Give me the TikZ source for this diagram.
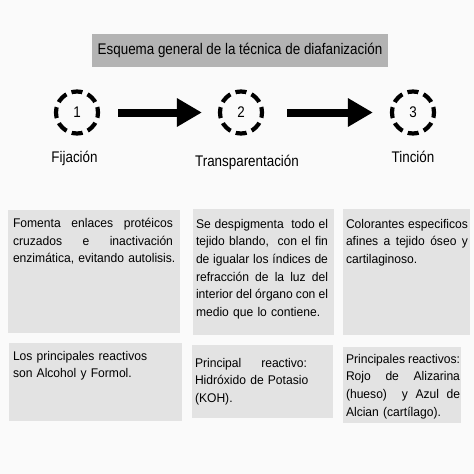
\documentclass[tikz,border=0pt]{standalone}
\usepackage{fontspec}
\setmainfont{Liberation Sans}
\newfontfamily\bodyfont[FakeStretch=0.96]{Liberation Sans}
\newfontfamily\narrowfont[FakeStretch=0.87]{Liberation Sans}
\usetikzlibrary{arrows.meta}
\definecolor{bg}{HTML}{FAFAFA}
\definecolor{titlegray}{HTML}{B3B3B3}
\definecolor{boxgray}{HTML}{E3E3E3}
\newcommand{\jline}[2]{\leavevmode\hbox to #1{#2}}
\newcommand{\gap}{\hspace{0pt plus 1fill}}
\tikzset{
  panel/.style={fill=boxgray, draw=none, inner sep=0pt, outer sep=0pt, anchor=north west},
  txt/.style={anchor=base west, inner sep=0pt, outer sep=0pt, align=left, text width=200pt,
    font=\bodyfont\fontsize{12.6}{17.7}\selectfont},
  stepcircle/.style={circle, draw=black, line width=4.2pt, dash pattern=on 11pt off 5.5pt, dash phase=5.5pt,
    minimum size=42pt, inner sep=0pt, font=\narrowfont\fontsize{15.4}{17}\selectfont},
  lab/.style={inner sep=0pt, anchor=base, font=\narrowfont\fontsize{15.4}{17}\selectfont},
  bigarrow/.style={line width=8pt, -{Triangle[length=25pt,width=27pt]}},
}
\begin{document}
\begin{tikzpicture}[x=1pt,y=-1pt]
\path[use as bounding box, fill=bg] (0,0) rectangle (474,474);

% title
\node[fill=titlegray, minimum width=296pt, minimum height=33pt, inner sep=0pt,
  text height=11pt, text depth=3pt,
  font=\narrowfont\fontsize{15.4}{17}\selectfont] (title) at (240,50.5) {Esquema general de la técnica de diafanización};

% steps
\node[stepcircle] (s1) at (77,112.5) {1};
\node[stepcircle] (s2) at (241,112.5) {2};
\node[stepcircle] (s3) at (413,112.5) {3};
\draw[bigarrow, shorten <=18pt, shorten >=16pt] (s1) -- (s2);
\draw[bigarrow, shorten <=23pt, shorten >=17pt] (s2) -- (s3);

\node[lab] (l1) at (74.5,162.7) {Fijación};
\node[lab] (l2) at (247,166.7) {Transparentación};
\node[lab] (l3) at (413,162.7) {Tinción};

% row 1 panels
\node[panel, minimum width=172pt, minimum height=123pt] (b1) at (8,210) {};
\node[panel, minimum width=141pt, minimum height=126pt] (b2) at (193,209) {};
\node[panel, minimum width=127pt, minimum height=126pt] (b3) at (343,209) {};

% row 2 panels
\node[panel, minimum width=173pt, minimum height=78pt] (c1) at (9,343) {};
\node[panel, minimum width=141pt, minimum height=73pt] (c2) at (192,345) {};
\node[panel, minimum width=118pt, minimum height=76pt] (c3) at (343,347) {};

% row 1 texts
\node[txt] (t1) at (13,227.5) {\jline{160pt}{Fomenta\gap enlaces\gap protéicos}\\
  \jline{160pt}{cruzados\gap e\gap inactivación}\\
  enzimática, evitando autolisis.};
\node[txt] (t2) at (196,228) {\jline{132pt}{Se\gap despigmenta\gap\gap todo\gap el}\\
  \jline{132pt}{tejido\gap blando,\gap\gap con\gap el\gap fin}\\
  \jline{132pt}{de\gap igualar\gap los\gap índices\gap de}\\
  \jline{132pt}{refracción\gap de\gap la\gap luz\gap del}\\
  \jline{132pt}{interior\gap del\gap órgano\gap con\gap el}\\
  medio que lo contiene.};
\node[txt] (t3) at (346,228) {\jline{122pt}{Colorantes\gap especificos}\\
  \jline{122pt}{afines\gap a\gap tejido\gap óseo\gap y}\\
  cartilaginoso.};

% row 2 texts
\node[txt] (u1) at (13,360) {Los principales reactivos\\
  son Alcohol y Formol.};
\node[txt] (u2) at (195,367) {\jline{112pt}{Principal\gap reactivo:}\\
  Hidróxido de Potasio\\
  (KOH).};
\node[txt] (u3) at (346,363) {\jline{114pt}{Principales\gap reactivos:}\\
  \jline{114pt}{Rojo\gap de\gap Alizarina}\\
  \jline{114pt}{(hueso)\gap\gap y\gap Azul\gap de}\\
  Alcian (cartílago).};
\end{tikzpicture}
\end{document}
